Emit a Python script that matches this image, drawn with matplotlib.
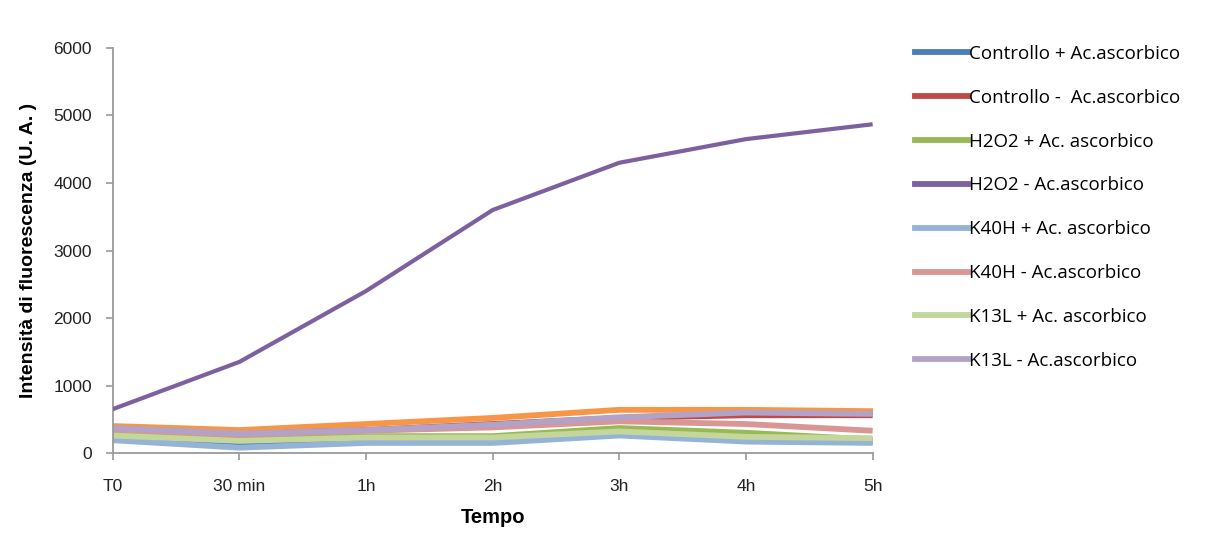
import matplotlib
matplotlib.use("Agg")
from matplotlib import pyplot as plt

# categorie asse x
tempi = ["T0", "30 min", "1h", "2h", "3h", "4h", "5h"]

# valori (U.A.)
controllo_piu = [220, 120, 180, 200, 290, 190, 170]
controllo_meno = [360, 280, 340, 430, 520, 560, 560]
h2o2_piu = [280, 200, 250, 250, 370, 300, 200]
h2o2_meno = [650, 1350, 2400, 3600, 4300, 4650, 4870]
k40h_piu = [190, 80, 150, 150, 260, 170, 150]
k40h_meno = [350, 270, 330, 380, 470, 430, 330]
k13l_piu = [260, 180, 230, 230, 320, 240, 220]
k13l_meno = [370, 290, 340, 420, 530, 600, 580]
serie_extra = [400, 340, 430, 520, 640, 640, 620]  # linea arancione, non in legenda

serie = [
    ("Controllo + Ac.ascorbico", controllo_piu, "#4a7ebb"),
    ("Controllo -  Ac.ascorbico", controllo_meno, "#be4b48"),
    ("H2O2 + Ac. ascorbico", h2o2_piu, "#98b954"),
    ("H2O2 - Ac.ascorbico", h2o2_meno, "#7d60a0"),
    ("K40H + Ac. ascorbico", k40h_piu, "#94b3d6"),
    ("K40H - Ac.ascorbico", k40h_meno, "#d99694"),
    ("K13L + Ac. ascorbico", k13l_piu, "#c3d69b"),
    ("K13L - Ac.ascorbico", k13l_meno, "#b3a2c7"),
]

fig = plt.figure(figsize=(12.12, 5.33), dpi=100)
ax = fig.add_axes([0.093, 0.150, 0.627, 0.760])

x = list(range(len(tempi)))
handles = []
for nome, valori, colore in serie:
    h, = ax.plot(x, valori, color=colore, linewidth=4.2, label=nome, solid_capstyle="butt")
    handles.append(h)
ax.plot(x, serie_extra, color="#f79646", linewidth=4.2, zorder=1.5)
# linea viola sopra le altre, piu sottile
handles[3].set_zorder(3)
handles[3].set_linewidth(3.0)

ax.set_xlim(0, len(tempi) - 1)
ax.set_ylim(0, 6000)
ax.set_xticks(x)
ax.set_xticklabels(tempi)
ax.set_yticks(range(0, 6001, 1000))

for s in ["top", "right"]:
    ax.spines[s].set_visible(False)
for s in ["left", "bottom"]:
    ax.spines[s].set_color("#9a9a9a")
    ax.spines[s].set_linewidth(1.3)
ax.tick_params(axis="both", colors="#9a9a9a", length=5, width=1.2, labelsize=12.5,
               labelcolor="#222222", pad=10)
ax.tick_params(axis="x", pad=14)
for lab in ax.get_xticklabels() + ax.get_yticklabels():
    lab.set_family("Liberation Sans")

ax.set_xlabel("Tempo", fontsize=14.5, fontweight="bold", family="Liberation Sans", labelpad=10)
ax.set_ylabel("Intensità di fluorescenza (U. A. )", fontsize=14, fontweight="bold",
              family="Liberation Sans", labelpad=12)

leg = fig.legend(handles=[plt.Line2D([], [], color=h.get_color(), linewidth=4.2) for h in handles],
                 labels=[h.get_label() for h in handles],
                 loc="upper left", bbox_to_anchor=(0.755, 0.916),
                 frameon=False, handlelength=2.85, handletextpad=0.05,
                 labelspacing=1.38, borderaxespad=0, borderpad=0,
                 prop={"family": "Open Sans", "size": 13.5})

fig.savefig("out.png", dpi=100)
